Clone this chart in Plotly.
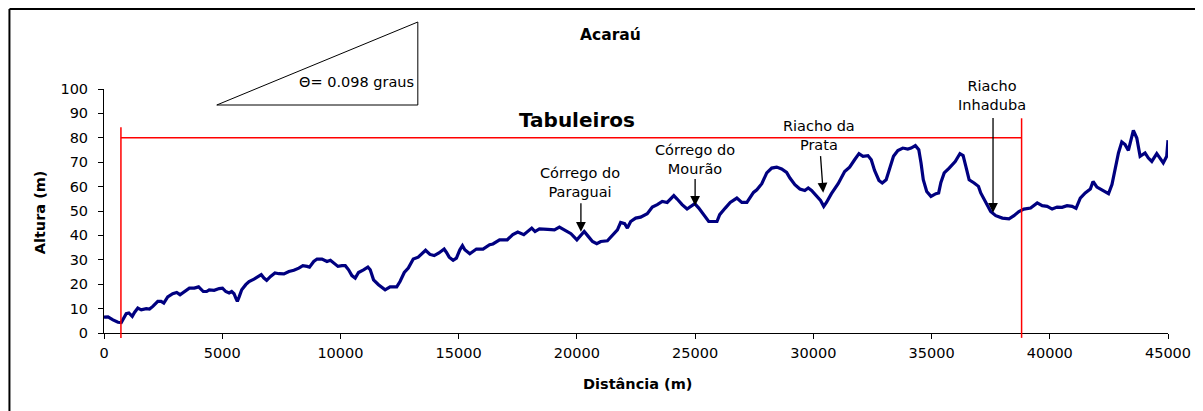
import plotly.graph_objects as go

# ---- data -------------------------------------------------------------
distancia = [
    0, 170, 380, 590, 730, 800, 940, 1050, 1195, 1290, 1430, 1575, 1785, 1925,
    2065, 2275, 2415, 2530, 2695, 2905, 3075, 3215, 3400, 3610, 3820, 4000,
    4200, 4340, 4450, 4660, 4870, 5010, 5150, 5290, 5400, 5500, 5575, 5640,
    5715, 5825, 5995, 6135, 6345, 6555, 6650, 6765, 6880, 7045, 7230, 7400,
    7610, 7820, 8030, 8240, 8410, 8590, 8690, 8870, 9010, 9220, 9430, 9575,
    9715, 9895, 10065, 10205, 10345, 10485, 10625, 10765, 10975, 11160, 11260,
    11400, 11610, 11890, 12100, 12380, 12520, 12700, 12870, 13080, 13290,
    13600, 13785, 13965, 14165, 14385, 14485, 14600, 14765, 14905, 15050,
    15160, 15260, 15470, 15750, 16030, 16310, 16450, 16730, 17055, 17290,
    17500, 17755, 17925, 18090, 18230, 18415, 18765, 19050, 19260, 19470,
    19750, 20000, 20170, 20310, 20480, 20660, 20840, 21010, 21290, 21500,
    21715, 21850, 22020, 22135, 22275, 22485, 22695, 22975, 23190, 23400,
    23610, 23820, 23930, 24100, 24240, 24450, 24660, 24830, 24985, 25155,
    25365, 25575, 25925, 26040, 26275, 26485, 26765, 26975, 27190, 27470,
    27610, 27820, 28030, 28240, 28450, 28660, 28870, 29010, 29220, 29430,
    29640, 29785, 29925, 30135, 30305, 30440, 30555, 30765, 31050, 31325,
    31535, 31745, 31930, 32100, 32310, 32450, 32590, 32775, 32915, 33080,
    33220, 33390, 33575, 33785, 33995, 34135, 34315, 34460, 34555, 34650,
    34795, 34975, 35185, 35300, 35395, 35535, 35745, 36000, 36200, 36335,
    36450, 36590, 36800, 36985, 37080, 37290, 37500, 37715, 37995, 38275,
    38485, 38695, 38905, 39190, 39470, 39680, 39890, 40100, 40310, 40520,
    40730, 40945, 41110, 41290, 41500, 41715, 41830, 41995, 42205, 42485,
    42630, 42765, 42905, 43045, 43185, 43325, 43440, 43535, 43680, 43820,
    44030, 44170, 44315, 44525, 44660, 44800, 44945, 45000,
]
altura = [
    6.5, 6.6, 5.4, 4.4, 4.3, 5.7, 7.9, 8.2, 6.8, 8.4, 10.2, 9.5, 10.0, 9.8,
    10.9, 13.0, 13.0, 12.3, 14.8, 16.1, 16.6, 15.7, 17.0, 18.4, 18.4, 18.9,
    17.0, 17.0, 17.7, 17.5, 18.2, 18.4, 17.0, 16.4, 17.0, 16.1, 14.3, 13.0,
    14.8, 17.7, 19.8, 21.1, 22.1, 23.5, 23.9, 22.5, 21.6, 23.2, 24.6, 24.3,
    24.2, 25.2, 25.7, 26.6, 27.6, 27.3, 27.0, 29.3, 30.3, 30.3, 29.3, 29.8,
    28.7, 27.3, 27.6, 27.6, 25.9, 23.5, 22.5, 24.8, 25.9, 27.0, 25.9,
    21.8, 19.8, 17.7, 18.9, 18.9, 21.1, 24.8, 26.6, 30.3, 31.1,
    33.9, 32.2, 31.7, 32.8, 34.4, 33.0, 31.1, 29.8, 30.7, 34.1,
    35.8, 34.1, 32.5, 34.4, 34.4, 36.2, 36.5, 38.2, 38.2, 40.3,
    41.4, 40.3, 41.6, 43.0, 41.6, 42.7, 42.5, 42.3, 43.4, 42.3,
    40.7, 38.2, 39.9, 41.6, 39.6, 37.5, 36.6, 37.5, 37.8, 39.9,
    42.3, 45.3, 44.8, 43.0, 45.7, 47.1, 47.5, 48.9, 51.6, 52.6,
    53.9, 53.5, 54.6, 56.3, 54.9, 52.6, 50.8, 51.9, 53.0, 51.2,
    48.5, 45.7, 45.7, 48.5, 51.2, 53.5, 55.3, 53.5, 53.5, 57.6,
    58.7, 61.2, 65.6, 67.6, 68.0, 67.2, 65.8, 63.5, 60.8, 59.0,
    58.4, 59.4, 58.4, 56.3, 54.3, 51.9, 53.5, 57.1, 61.2, 66.2,
    68.0, 71.0, 73.5, 72.4, 72.7, 71.0, 66.6, 62.5, 61.5, 62.8,
    66.9, 72.4, 74.8, 75.8, 75.4, 75.8, 76.8, 75.1, 69.7, 62.8,
    58.0, 56.0, 57.1, 57.4, 61.7, 65.6, 67.6, 70.3, 73.5, 72.7,
    68.3, 62.8, 61.5, 60.1, 57.4, 53.9, 49.8, 48.1, 47.1, 46.8,
    48.1, 49.8, 50.8, 51.2, 53.3, 52.2, 51.9, 50.8, 51.6, 51.5,
    52.2, 51.9, 51.1, 55.3, 57.4, 59.0, 62.1, 59.8, 58.7, 57.1,
    60.8, 66.9, 73.8, 78.3, 77.2, 74.8, 79.9, 83.0, 79.9, 72.4,
    73.8, 71.7, 70.3, 73.5, 71.7, 69.7, 72.4, 79.0,
]

x_ticks = [0, 5000, 10000, 15000, 20000, 25000, 30000, 35000, 40000, 45000]
y_ticks = [0, 10, 20, 30, 40, 50, 60, 70, 80, 90, 100]

tabuleiros_inicio = 716
tabuleiros_fim = 38808
tabuleiros_nivel = 80

# (label, tip distance, tip altitude, tail altitude, label distance, label altitude, tail distance)
rios = [
    ("Córrego do<br>Paraguai", 20170, 41.5, 53.8, 20150, 61.6, 20170),
    ("Córrego do<br>Mourão", 25000, 52.2, 63.7, 25000, 71.2, 25000),
    ("Riacho da<br>Prata", 30417, 57.5, 73.1, 30260, 81.1, 30300),
    ("Riacho<br>Inhaduba", 37600, 49.3, 88.7, 37575, 97.4, 37600),
]

FONT = "DejaVu Sans"

# ---- figure -----------------------------------------------------------
OFF = 8  # page body margin
W, H = 1203 - OFF, 411 - OFF
L, T = 104 - OFF, 89 - OFF
pw, ph = 1069, 244
R, B = W - L - pw, H - T - ph


def px(xp):
    return (xp - OFF - L) / pw


def py(yp):
    return (T + ph - (yp - OFF)) / ph


fig = go.Figure()
fig.add_trace(go.Scatter(
    x=distancia, y=altura, mode="lines",
    line=dict(color="#000080", width=3.2),
    hoverinfo="x+y", showlegend=False,
))

shapes = []
red = dict(color="#ff0000", width=1.5)
shapes.append(dict(type="line", xref="x", yref="paper",
                   x0=tabuleiros_inicio, x1=tabuleiros_inicio,
                   y0=-0.02, y1=0.843, line=red))
shapes.append(dict(type="line", xref="x", yref="paper",
                   x0=tabuleiros_fim, x1=tabuleiros_fim,
                   y0=-0.02, y1=0.88, line=red))
shapes.append(dict(type="line", xref="x", yref="paper",
                   x0=tabuleiros_inicio, x1=tabuleiros_fim,
                   y0=tabuleiros_nivel / 100, y1=tabuleiros_nivel / 100,
                   line=red))
# slope triangle
tx0, tx1 = px(217.3), px(419.3)
ty0, ty1 = py(105), py(22)
shapes.append(dict(type="path", xref="paper", yref="paper",
                   path=f"M {tx0} {ty0} L {tx1} {ty1} L {tx1} {ty0} Z",
                   line=dict(color="black", width=1)))
# outer frame (top and left edges only are visible)
frame = dict(color="black", width=2)
shapes.append(dict(type="line", xref="paper", yref="paper",
                   x0=px(9), x1=px(1215), y0=py(9), y1=py(9), line=frame))
shapes.append(dict(type="line", xref="paper", yref="paper",
                   x0=px(9), x1=px(9), y0=py(9), y1=py(420), line=frame))


def txt(text, x, y, size=14.5, **kw):
    d = dict(text=text, xref="paper", yref="paper", x=x, y=y,
             xanchor="center", yanchor="middle", showarrow=False,
             font=dict(family=FONT, size=size, color="black"))
    d.update(kw)
    return d


annotations = [
    txt("<b>Acaraú</b>", px(613), py(35), 15.5),
    txt("<b>Tabuleiros</b>", px(579), py(120), 20),
    txt("Θ= 0.098 graus", px(417), py(82), 14.5, xanchor="right"),
    txt("<b>Altura (m)</b>", px(40), py(212), 14.5, textangle=-90),
    txt("<b>Distância (m)</b>", px(640), py(384), 14.5),
]

for label, xt, yt, ytail, xl, yl, xtail in rios:
    annotations.append(dict(text="", x=xt, y=yt, ax=xtail, ay=ytail,
                            xref="x", yref="y", axref="x", ayref="y",
                            showarrow=True, arrowhead=2, arrowsize=1.5,
                            arrowwidth=1.3, arrowcolor="black", standoff=0))
    annotations.append(dict(text=label, x=xl, y=yl, xref="x", yref="y",
                            xanchor="center", yanchor="middle",
                            showarrow=False, align="center",
                            font=dict(family=FONT, size=14.5, color="black")))

fig.update_layout(
    width=W, height=H,
    margin=dict(l=L, r=R, t=T, b=B, pad=0),
    paper_bgcolor="white", plot_bgcolor="white",
    shapes=shapes, annotations=annotations,
    font=dict(family=FONT, size=14.5, color="black"),
    xaxis=dict(range=[0, 45000], tickvals=x_ticks,
               ticktext=[str(v) for v in x_ticks],
               showgrid=False, zeroline=False, showline=True,
               linecolor="black", linewidth=1, ticks="outside", ticklen=5,
               tickcolor="black", ticklabelstandoff=2,
               tickfont=dict(family=FONT, size=14.5, color="black")),
    yaxis=dict(range=[0, 100], tickvals=y_ticks,
               showgrid=False, zeroline=False, showline=True,
               linecolor="black", linewidth=1, ticks="outside", ticklen=5,
               tickcolor="black", ticklabelstandoff=7,
               tickfont=dict(family=FONT, size=14.5, color="black")),
)

fig.write_html("out.html")
